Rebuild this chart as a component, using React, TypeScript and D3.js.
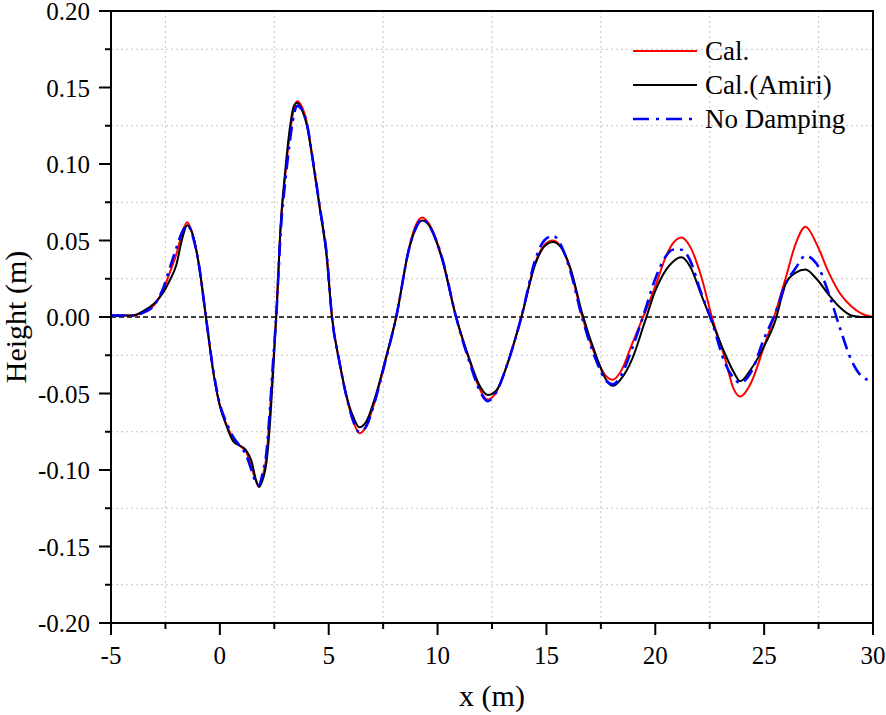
import React from "react";
import * as d3 from "d3";

const xs = [-5, -4, -3.5, -3.0, -2.6, -2.3, -2.0, -1.75, -1.5, -1.25, -0.95, -0.64, -0.3, 0.0, 0.3, 0.6, 0.9, 1.2, 1.45, 1.65, 1.8, 1.95, 2.15, 2.3, 2.45, 2.6, 2.8, 3.0, 3.2, 3.4, 3.55, 3.75, 4.0, 4.3, 4.6, 4.9, 5.15, 5.5, 5.9, 6.15, 6.4, 6.7, 7.1, 7.6, 8.1, 8.7, 9.0, 9.3, 9.6, 10.2, 10.85, 11.5, 11.9, 12.3, 12.7, 13.2, 13.85, 14.5, 14.9, 15.3, 15.7, 16.1, 16.65, 17.3, 17.7, 18.05, 18.4, 18.95, 19.5, 20.0, 20.5, 20.8, 21.2, 21.6, 22.1, 22.6, 23.2, 23.6, 23.9, 24.4, 25.0, 25.5, 26.0, 26.45, 26.9, 27.4, 28.0, 28.5, 29.0, 29.5, 30];

const calValues = [0.001, 0.001, 0.003, 0.008, 0.018, 0.029, 0.041, 0.054, 0.062, 0.054, 0.033, 0.0, -0.036, -0.058, -0.070, -0.079, -0.084, -0.088, -0.098, -0.107, -0.111, -0.105, -0.090, -0.062, -0.030, 0.003, 0.060, 0.092, 0.118, 0.136, 0.141, 0.138, 0.127, 0.100, 0.071, 0.042, 0.0, -0.030, -0.057, -0.069, -0.076, -0.072, -0.056, -0.029, 0.0, 0.046, 0.060, 0.065, 0.061, 0.039, 0.0, -0.030, -0.046, -0.054, -0.049, -0.031, 0.0, 0.036, 0.047, 0.050, 0.045, 0.031, 0.0, -0.027, -0.038, -0.041, -0.036, -0.017, 0.002, 0.020, 0.040, 0.048, 0.052, 0.046, 0.027, 0.0, -0.027, -0.047, -0.052, -0.043, -0.019, 0.002, 0.026, 0.048, 0.059, 0.048, 0.028, 0.015, 0.007, 0.002, 0.0];

const amiriValues = [0.001, 0.001, 0.004, 0.009, 0.016, 0.024, 0.034, 0.050, 0.060, 0.054, 0.033, 0.0, -0.036, -0.058, -0.071, -0.081, -0.084, -0.087, -0.094, -0.106, -0.111, -0.107, -0.094, -0.070, -0.035, 0.003, 0.062, 0.095, 0.122, 0.138, 0.140, 0.136, 0.125, 0.099, 0.070, 0.040, 0.0, -0.030, -0.056, -0.066, -0.072, -0.069, -0.054, -0.028, 0.0, 0.045, 0.058, 0.063, 0.060, 0.038, 0.0, -0.029, -0.044, -0.051, -0.048, -0.031, 0.0, 0.035, 0.046, 0.049, 0.045, 0.032, 0.002, -0.026, -0.040, -0.045, -0.041, -0.027, -0.004, 0.017, 0.031, 0.036, 0.039, 0.033, 0.015, -0.003, -0.024, -0.036, -0.042, -0.034, -0.019, -0.003, 0.022, 0.029, 0.031, 0.025, 0.014, 0.006, 0.001, 0.0, 0.0];

const noDampValues = [0.001, 0.001, 0.003, 0.008, 0.019, 0.032, 0.045, 0.055, 0.060, 0.053, 0.033, 0.0, -0.035, -0.057, -0.069, -0.078, -0.084, -0.090, -0.100, -0.108, -0.110, -0.103, -0.087, -0.060, -0.028, 0.003, 0.057, 0.088, 0.113, 0.132, 0.138, 0.136, 0.126, 0.100, 0.071, 0.042, 0.0, -0.030, -0.057, -0.069, -0.075, -0.072, -0.056, -0.029, 0.0, 0.045, 0.058, 0.064, 0.060, 0.039, 0.0, -0.031, -0.047, -0.055, -0.049, -0.031, 0.0, 0.038, 0.050, 0.053, 0.046, 0.030, -0.001, -0.029, -0.041, -0.044, -0.039, -0.020, 0.003, 0.025, 0.040, 0.044, 0.044, 0.037, 0.016, -0.003, -0.030, -0.040, -0.043, -0.036, -0.014, 0.002, 0.022, 0.032, 0.040, 0.035, 0.014, -0.008, -0.028, -0.039, -0.042];

const xTicks = [-5, 0, 5, 10, 15, 20, 25, 30];
const xMinor = [-2.5, 2.5, 7.5, 12.5, 17.5, 22.5, 27.5];
const yTicks = [0.2, 0.15, 0.1, 0.05, 0, -0.05, -0.1, -0.15, -0.2];
const yMinor = [0.175, 0.125, 0.075, 0.025, -0.025, -0.075, -0.125, -0.175];
const legendLabels = ["Cal.", "Cal.(Amiri)", "No Damping"];

const W = 886;
const H = 715;
const left = 111;
const right = 873;
const top = 11;
const bottom = 623;
const FONT = "Liberation Serif";

export default function App() {
  const x = d3.scaleLinear().domain([-5, 30]).range([left, right]);
  const y = d3.scaleLinear().domain([-0.2, 0.2]).range([bottom, top]);
  const line = d3
    .line<number>()
    .x((_, i) => x(xs[i]))
    .y((d) => y(d))
    .curve(d3.curveMonotoneX);

  const series = [
    { label: legendLabels[0], values: calValues, color: "#ff0000", width: 2, dash: "none" },
    { label: legendLabels[1], values: amiriValues, color: "#000000", width: 2, dash: "none" },
    { label: legendLabels[2], values: noDampValues, color: "#0000ff", width: 2.6, dash: "14 6 3 6" },
  ];

  return (
    <svg
      width={W}
      height={H}
      style={{ position: "absolute", left: 0, top: 0, background: "#fff" }}
    >
      <rect x={0} y={0} width={W} height={H} fill="#fff" />
      <defs>
        <clipPath id="plot">
          <rect x={left} y={top} width={right - left} height={bottom - top} />
        </clipPath>
      </defs>
      {xMinor.map((v) => (
        <line key={"gx" + v} x1={x(v)} x2={x(v)} y1={top} y2={bottom} stroke="#c4c4c4" strokeWidth={1} strokeDasharray="2 3" />
      ))}
      {yMinor.map((v) => (
        <line key={"gy" + v} x1={left} x2={right} y1={y(v)} y2={y(v)} stroke="#c4c4c4" strokeWidth={1} strokeDasharray="2 3" />
      ))}
      <line x1={left} x2={right} y1={y(0)} y2={y(0)} stroke="#000" strokeWidth={1.3} strokeDasharray="5 3" />
      <g clipPath="url(#plot)">
        {series.map((s) => (
          <path
            key={s.label}
            d={line(s.values) || ""}
            fill="none"
            stroke={s.color}
            strokeWidth={s.width}
            strokeDasharray={s.dash}
            strokeLinejoin="round"
          />
        ))}
      </g>
      <rect x={left} y={top} width={right - left} height={bottom - top} fill="none" stroke="#000" strokeWidth={2} />
      {xTicks.map((v) => (
        <g key={"xt" + v}>
          <line x1={x(v)} x2={x(v)} y1={bottom} y2={bottom + 12} stroke="#000" strokeWidth={2} />
          <text x={x(v)} y={664} textAnchor="middle" fontSize={25} fontFamily={FONT}>
            {String(v)}
          </text>
        </g>
      ))}
      {xMinor.map((v) => (
        <line key={"xm" + v} x1={x(v)} x2={x(v)} y1={bottom} y2={bottom + 6} stroke="#000" strokeWidth={2} />
      ))}
      {yTicks.map((v) => (
        <g key={"yt" + v}>
          <line x1={left - 12} x2={left} y1={y(v)} y2={y(v)} stroke="#000" strokeWidth={2} />
          <text x={90} y={y(v) + 9} textAnchor="end" fontSize={25} fontFamily={FONT}>
            {d3.format(".2f")(v).replace("−", "-")}
          </text>
        </g>
      ))}
      {yMinor.map((v) => (
        <line key={"ym" + v} x1={left - 6} x2={left} y1={y(v)} y2={y(v)} stroke="#000" strokeWidth={2} />
      ))}
      <text x={(left + right) / 2} y={706} textAnchor="middle" fontSize={30} fontFamily={FONT}>
        x (m)
      </text>
      <text transform={`translate(26, ${(top + bottom) / 2}) rotate(-90)`} textAnchor="middle" fontSize={30} fontFamily={FONT}>
        Height (m)
      </text>
      {series.map((s, i) => {
        const ly = 51 + i * 34;
        return (
          <g key={"lg" + s.label}>
            <line x1={633} x2={697} y1={ly} y2={ly} stroke={s.color} strokeWidth={s.width} strokeDasharray={s.dash === "none" ? "none" : "16 7 3 7"} />
            <text x={705} y={ly + 9} fontSize={27} fontFamily={FONT}>
              {s.label}
            </text>
          </g>
        );
      })}
    </svg>
  );
}
